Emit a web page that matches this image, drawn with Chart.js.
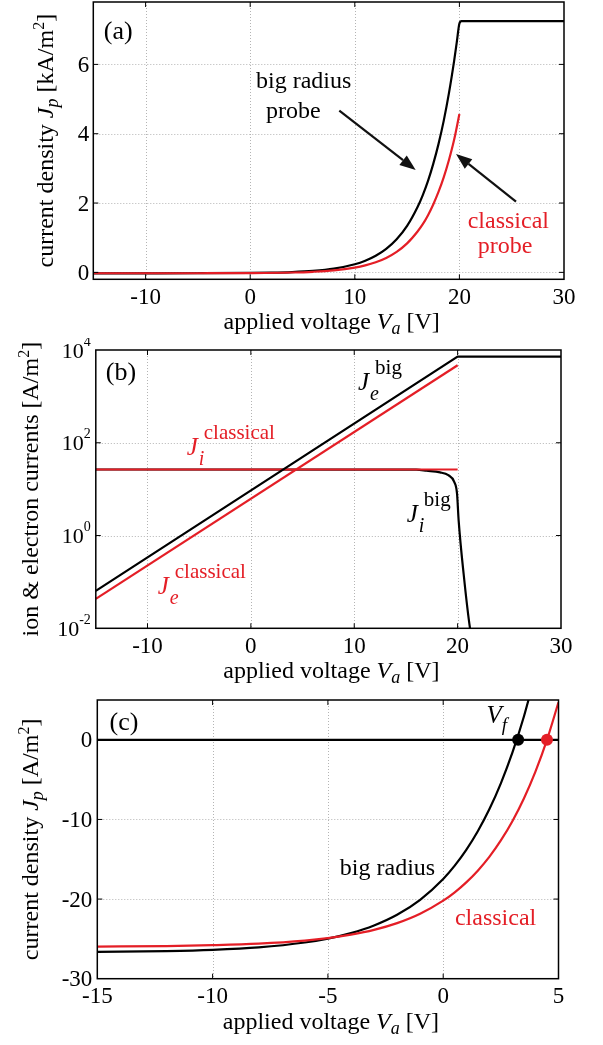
<!DOCTYPE html>
<html><head><meta charset="utf-8">
<script src="https://cdn.jsdelivr.net/npm/chart.js@4.4.1/dist/chart.umd.min.js"></script>
<style>
html,body{margin:0;padding:0;background:#fff}
#wrap{position:relative;width:603px;height:1045px;overflow:hidden;background:#fff}
canvas{position:absolute;left:0}
</style></head><body>
<div id="wrap">
<canvas id="ca" width="603" height="338" style="top:0px"></canvas>
<canvas id="cb" width="603" height="350" style="top:338px"></canvas>
<canvas id="cc" width="603" height="357" style="top:688px"></canvas>
</div>
<script>
const FONT='"Liberation Serif","Times New Roman",serif';
const RED='#e41e26';

// (a) probe current density, kA/m^2
const vBigA=[-15,-10,-5,0,2,4,6,8,10,11,12,13,14,15,16,16.5,17,17.5,18,18.5,19,19.5,19.75,20,20.2,30];
const jBigA=[-0.027,-0.027,-0.025,-0.017,-0.008,0.009,0.042,0.107,0.233,0.335,0.478,0.677,0.955,1.34,1.885,2.23,2.64,3.13,3.70,4.37,5.17,6.11,6.64,7.18,7.25,7.25];
const vClsA=[-15,-10,-5,0,4,6,8,10,11,12,13,14,15,16,16.5,17,17.5,18,18.5,19,19.5,20];
const jClsA=[-0.026,-0.026,-0.025,-0.020,-0.004,0.017,0.057,0.137,0.201,0.291,0.416,0.591,0.836,1.18,1.39,1.65,1.96,2.32,2.74,3.24,3.83,4.57];
const xTicksA=[-10,0,10,20,30];
const yTicksA=[0,2,4,6];

// (b) ion & electron currents, A/m^2 (log)
const vJeBig=[-15,20,30];
const jeBig=[0.064,7200,7200];
const vJeCls=[-15,20];
const jeCls=[0.043,4700];
const vJiCls=[-15,20];
const jiCls=[26.5,26.5];
const vJiBig=[-15,16,17,18.3,19.1,19.67,19.94,20.1,20.58,21.2,21.5];
const jiBig=[26.5,26.3,25,23,20,14.4,8.1,2.1,0.15,0.01,0.005];
const xTicksB=[-10,0,10,20,30];
const yExpB=[-2,0,2,4];

// (c) zoom near floating potential, A/m^2
const vBigC=[-15,-12,-10,-8,-6,-5,-4,-3,-2,-1,0,0.5,1,1.5,2,2.5,3,3.5,4];
const jBigC=[-26.64,-26.53,-26.37,-26.06,-25.45,-24.96,-24.27,-23.31,-21.97,-20.09,-17.47,-15.8,-13.82,-11.48,-8.73,-5.46,-1.62,2.93,8.3];
const vClsC=[-15,-12,-10,-8,-6,-5,-4,-3,-2,-1,0,0.5,1,1.5,2,2.5,3,3.5,4,4.5,5];
const jClsC=[-25.96,-25.9,-25.79,-25.60,-25.22,-24.91,-24.47,-23.87,-23.02,-21.84,-20.20,-19.15,-17.90,-16.43,-14.70,-12.64,-10.22,-7.36,-3.99,0.0,4.72];
const zeroV=[-15,5];
const zeroJ=[0,0];
const vfBig=[3.25], vfCls=[4.5], vfJ=[0];
const xTicksC=[-15,-10,-5,0,5];
const yTicksC=[-30,-20,-10,0];

const pts=(xs,ys)=>xs.map((x,i)=>({x,y:ys[i]}));
const line=(xs,ys,color,order,straight)=>({data:pts(xs,ys),borderColor:color,backgroundColor:color,borderWidth:2.2,pointRadius:0,order,
  cubicInterpolationMode:straight?'default':'monotone',tension:0});
const dot=(xs,ys,color)=>({data:pts(xs,ys),showLine:false,pointRadius:6,pointBackgroundColor:color,pointBorderWidth:0,order:-1});

function tw(ctx,t,size,it){ctx.font=(it?'italic ':'')+size+'px '+FONT;return ctx.measureText(t).width;}
function rich(ctx,parts,x,y,align){
  let w=0;parts.forEach(p=>{w+=tw(ctx,p[0],p[1],p[2]);});
  let cx=align==='center'?x-w/2:align==='right'?x-w:x;
  ctx.textAlign='left';ctx.textBaseline='alphabetic';
  parts.forEach(p=>{const ww=tw(ctx,p[0],p[1],p[2]);ctx.fillText(p[0],cx,y+(p[3]||0));cx+=ww;});
}
function drawJ(ctx,x,y,sub,sup,color){
  ctx.fillStyle=color;ctx.textAlign='left';ctx.textBaseline='alphabetic';
  const w=tw(ctx,'J',25,true);ctx.fillText('J',x,y);
  tw(ctx,sub,20,true);ctx.fillText(sub,x+w+1,y+10);
  tw(ctx,sup,21,false);ctx.fillText(sup,x+w+6,y-16);
}
function yTitle(ctx,cx,cy,parts){
  ctx.save();ctx.translate(cx,cy);ctx.rotate(-Math.PI/2);ctx.fillStyle='#000';rich(ctx,parts,0,0,'center');ctx.restore();
}
function arrow(ctx,x1,y1,x2,y2){
  const a=Math.atan2(y2-y1,x2-x1),L=16,W=6,c=Math.cos(a),s=Math.sin(a);
  ctx.save();ctx.strokeStyle='#111';ctx.fillStyle='#111';ctx.lineWidth=2.2;
  ctx.beginPath();ctx.moveTo(x1,y1);ctx.lineTo(x2-L*c,y2-L*s);ctx.stroke();
  ctx.beginPath();ctx.moveTo(x2,y2);ctx.lineTo(x2-L*c+W*s,y2-L*s-W*c);ctx.lineTo(x2-L*c-W*s,y2-L*s+W*c);ctx.closePath();ctx.fill();
  ctx.restore();
}
const xTitle=[['applied voltage ',24],['V',24,true],['a',18,true,5],[' [V]',24]];

function makeChart(id,cfg){
  const plugin={id:'frame_'+id,
    beforeDatasetsDraw(chart){
      const {ctx,chartArea:a,scales:{x,y}}=chart;
      ctx.save();ctx.strokeStyle='#b4b4b4';ctx.lineWidth=1;ctx.setLineDash([1,2]);
      cfg.xGrid.forEach(v=>{const p=Math.round(x.getPixelForValue(v))+0.5;ctx.beginPath();ctx.moveTo(p,a.top);ctx.lineTo(p,a.bottom);ctx.stroke();});
      cfg.yGrid.forEach(v=>{const p=Math.round(y.getPixelForValue(v))+0.5;ctx.beginPath();ctx.moveTo(a.left,p);ctx.lineTo(a.right,p);ctx.stroke();});
      ctx.restore();
    },
    afterDatasetsDraw(chart){
      const {ctx,chartArea:a,scales:{x,y}}=chart;
      ctx.save();
      ctx.strokeStyle='#000';ctx.lineWidth=1.5;ctx.setLineDash([]);
      ctx.strokeRect(a.left,a.top,a.right-a.left,a.bottom-a.top);
      ctx.lineWidth=1;
      const T=5;
      cfg.xTicks.forEach(v=>{const p=x.getPixelForValue(v);if(p<a.left+1||p>a.right-1)return;ctx.beginPath();ctx.moveTo(p,a.bottom);ctx.lineTo(p,a.bottom-T);ctx.moveTo(p,a.top);ctx.lineTo(p,a.top+T);ctx.stroke();});
      cfg.yTicks.forEach(v=>{const p=y.getPixelForValue(v);if(p<a.top+1||p>a.bottom-1)return;ctx.beginPath();ctx.moveTo(a.left,p);ctx.lineTo(a.left+T,p);ctx.moveTo(a.right,p);ctx.lineTo(a.right-T,p);ctx.stroke();});
      ctx.fillStyle='#000';
      ctx.font='23px '+FONT;ctx.textAlign='center';ctx.textBaseline='alphabetic';
      cfg.xTicks.forEach(v=>{ctx.fillText(String(v),x.getPixelForValue(v),a.bottom+24.5);});
      cfg.yTicks.forEach((v,i)=>{
        const p=y.getPixelForValue(v);
        if(cfg.yExp){rich(ctx,[['10',22],[String(cfg.yExp[i]),14,false,-12]],a.left-5,p+7.5,'right');}
        else{ctx.font='23px '+FONT;ctx.textAlign='right';ctx.fillText(String(v),a.left-cfg.yPad,p+7.6);}
      });
      rich(ctx,xTitle,(a.left+a.right)/2+3,a.bottom+50,'center');
      yTitle(ctx,cfg.yTitleX,(a.top+a.bottom)/2,cfg.yTitle);
      cfg.extra(ctx,chart);
      ctx.restore();
    }
  };
  return new Chart(document.getElementById(id),{
    type:'line',
    data:{datasets:cfg.datasets},
    options:{responsive:false,animation:false,events:[],
      layout:{padding:cfg.pad},
      plugins:{legend:{display:false},tooltip:{enabled:false}},
      scales:{
        x:{type:'linear',min:cfg.xr[0],max:cfg.xr[1],grid:{display:false},border:{display:false},ticks:{display:false},afterFit:s=>{s.height=cfg.xh;}},
        y:{type:cfg.log?'logarithmic':'linear',min:cfg.yr[0],max:cfg.yr[1],grid:{display:false},border:{display:false},ticks:{display:false},afterFit:s=>{s.width=cfg.yw;}}
      }},
    plugins:[plugin]
  });
}

makeChart('ca',{
  xr:[-15,30],yr:[-0.2,7.8],pad:{left:0,right:39,top:2,bottom:0},yw:93.3,xh:58.7,
  xTicks:xTicksA,yTicks:yTicksA,xGrid:[-10,0,10,20],yGrid:[0,2,4,6],yPad:4,yTitleX:53,
  yTitle:[['current density ',24],['J',24,true],['p',18,true,5],[' [kA/m',24],['2',16,false,-9],[']',24]],
  datasets:[line(vClsA,jClsA,RED,0),line(vBigA,jBigA,'#000',1)],
  extra(ctx){
    ctx.fillStyle='#000';
    rich(ctx,[['(a)',26]],103.8,39,'left');
    rich(ctx,[['big radius',24]],303.7,88,'center');
    rich(ctx,[['probe',24]],293.3,118,'center');
    arrow(ctx,339.3,110.7,415.7,170);
    ctx.fillStyle=RED;
    rich(ctx,[['classical',24]],508.3,228,'center');
    rich(ctx,[['probe',24]],505,253,'center');
    arrow(ctx,516,201.7,456,154);
  }
});

makeChart('cb',{
  xr:[-15,30],yr:[0.01,10000],log:true,pad:{left:0,right:42,top:12,bottom:0},yw:95.8,xh:59.7,
  xTicks:xTicksB,yTicks:yExpB.map(e=>Math.pow(10,e)),yExp:yExpB,xGrid:[-10,0,10,20],yGrid:[1,100],yTitleX:38,
  yTitle:[['ion & electron currents [A/m',24],['2',16,false,-9],[']',24]],
  datasets:[line(vJeBig,jeBig,'#000',0,true),line(vJiCls,jiCls,RED,1,true),line(vJeCls,jeCls,RED,2,true),line(vJiBig,jiBig,'#000',3)],
  extra(ctx){
    ctx.fillStyle='#000';
    rich(ctx,[['(b)',26]],105.8,42.3,'left');
    drawJ(ctx,358,52.3,'e','big','#000');
    drawJ(ctx,186.7,117.3,'i','classical',RED);
    drawJ(ctx,406.7,184,'i','big','#000');
    drawJ(ctx,157.7,255.6,'e','classical',RED);
  }
});

makeChart('cc',{
  xr:[-15,5],yr:[-30,5],pad:{left:0,right:44.5,top:12,bottom:0},yw:97.3,xh:66.3,
  xTicks:xTicksC,yTicks:yTicksC,xGrid:[-10,-5,0],yGrid:[-20,-10,0],yPad:5,yTitleX:38,
  yTitle:[['current density ',24],['J',24,true],['p',18,true,5],[' [A/m',24],['2',16,false,-9],[']',24]],
  datasets:[dot(vfBig,vfJ,'#000'),dot(vfCls,vfJ,RED),line(zeroV,zeroJ,'#000',0,true),line(vClsC,jClsC,RED,1),line(vBigC,jBigC,'#000',2)],
  extra(ctx){
    ctx.fillStyle='#000';
    rich(ctx,[['(c)',26]],109.6,42.3,'left');
    rich(ctx,[['V',25,true],['f',19,true,8]],486.5,35.3,'left');
    rich(ctx,[['big radius',24]],387.5,187,'center');
    ctx.fillStyle=RED;
    rich(ctx,[['classical',24]],495.6,237,'center');
  }
});
</script>
</body></html>
